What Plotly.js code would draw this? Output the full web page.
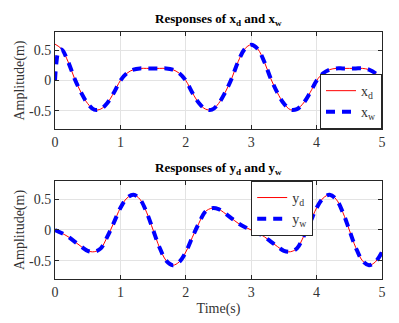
<!DOCTYPE html>
<html>
<head>
<meta charset="utf-8">
<script src="https://cdn.plot.ly/plotly-3.0.1.min.js"></script>
<style>
  html, body { margin: 0; padding: 0; background: #fff; }
  #plot { width: 399px; height: 323px; }
</style>
</head>
<body>
<div id="plot"></div>
<script>
// time grid (s), read every 0.1 s
var t = [0,0.1,0.2,0.3,0.4,0.5,0.6,0.7,0.8,0.9,1,1.1,1.2,1.3,1.4,1.5,1.6,1.7,1.8,1.9,2,
         2.1,2.2,2.3,2.4,2.5,2.6,2.7,2.8,2.9,3,3.1,3.2,3.3,3.4,3.5,3.6,3.7,3.8,3.9,4,
         4.1,4.2,4.3,4.4,4.5,4.6,4.7,4.8,4.9,5];

// x responses
var xd = [0.60,0.52,0.31,0.03,-0.20,-0.38,-0.48,-0.47,-0.37,-0.20,0.00,
          0.12,0.18,0.20,0.20,0.20,0.20,0.20,0.18,0.12,0.00,
          -0.20,-0.37,-0.47,-0.48,-0.38,-0.20,0.03,0.31,0.52,0.59,
          0.52,0.31,0.03,-0.20,-0.38,-0.48,-0.47,-0.37,-0.20,0.00,
          0.12,0.18,0.20,0.20,0.20,0.20,0.20,0.18,0.12,0.00];

// x_w starts at zero and catches up within the first 0.1 s
var tw = [0,0.02,0.05,0.1,0.2,0.3,0.4,0.5,0.6,0.7,0.8,0.9,1,1.1,1.2,1.3,1.4,1.5,1.6,1.7,1.8,1.9,2,
          2.1,2.2,2.3,2.4,2.5,2.6,2.7,2.8,2.9,3,3.1,3.2,3.3,3.4,3.5,3.6,3.7,3.8,3.9,4,
          4.1,4.2,4.3,4.4,4.5,4.6,4.7,4.8,4.9,5];
var xw = [0.00,0.28,0.46,0.51,0.31,0.03,-0.20,-0.38,-0.48,-0.47,-0.37,-0.20,0.00,
          0.12,0.18,0.20,0.20,0.20,0.20,0.20,0.18,0.12,0.00,
          -0.20,-0.37,-0.47,-0.48,-0.38,-0.20,0.03,0.31,0.52,0.59,
          0.52,0.31,0.03,-0.20,-0.38,-0.48,-0.47,-0.37,-0.20,0.00,
          0.12,0.18,0.20,0.20,0.20,0.20,0.20,0.18,0.12,0.00];

// y responses
var yd = [0.00,-0.05,-0.11,-0.19,-0.27,-0.34,-0.355,-0.30,-0.11,0.12,0.36,
          0.52,0.575,0.50,0.29,0.00,-0.29,-0.50,-0.575,-0.52,-0.36,
          -0.12,0.11,0.30,0.355,0.34,0.27,0.19,0.11,0.05,0.00,
          -0.05,-0.11,-0.19,-0.27,-0.34,-0.355,-0.30,-0.11,0.12,0.36,
          0.52,0.575,0.50,0.29,0.00,-0.29,-0.50,-0.575,-0.52,-0.36];
var yw = [0.00,-0.05,-0.11,-0.19,-0.27,-0.34,-0.355,-0.30,-0.11,0.12,0.36,
          0.52,0.575,0.50,0.29,0.00,-0.29,-0.50,-0.575,-0.52,-0.36,
          -0.12,0.11,0.30,0.355,0.34,0.27,0.19,0.11,0.05,0.00,
          -0.05,-0.11,-0.19,-0.27,-0.34,-0.355,-0.30,-0.11,0.12,0.36,
          0.52,0.575,0.50,0.29,0.00,-0.29,-0.50,-0.575,-0.52,-0.36];

var yTicks = [-0.5, 0, 0.5];
var yTickText = ['-0.5', '0', '0.5'];

var serif = 'Liberation Serif';
var red = {color: '#ff0000', width: 1, shape: 'spline'};
var blue = {color: '#0000ff', width: 4, dash: '9px,7px', shape: 'spline'};

// red first, dashed blue on top
var data = [
  {x: t, y: xd, mode: 'lines', name: 'x<sub>d</sub>', line: red, xaxis: 'x', yaxis: 'y', legend: 'legend'},
  {x: tw, y: xw, mode: 'lines', name: 'x<sub>w</sub>', line: blue, xaxis: 'x', yaxis: 'y', legend: 'legend'},
  {x: t, y: yd, mode: 'lines', name: 'y<sub>d</sub>', line: red, xaxis: 'x2', yaxis: 'y2', legend: 'legend2'},
  {x: t, y: yw, mode: 'lines', name: 'y<sub>w</sub>', line: blue, xaxis: 'x2', yaxis: 'y2', legend: 'legend2'}
];

function xax(anchor, titleText) {
  return {
    anchor: anchor, domain: [0, 1], range: [0, 5], dtick: 1,
    showline: true, mirror: 'ticks', linecolor: '#262626', linewidth: 1,
    ticks: 'inside', ticklen: 4, tickcolor: '#262626',
    showgrid: true, gridcolor: '#e3e3e3', zeroline: false,
    tickfont: {family: serif, size: 14, color: '#333'},
    title: {text: titleText, font: {family: serif, size: 14, color: '#333'}, standoff: 4}
  };
}
function yax(anchor, dom) {
  return {
    anchor: anchor, domain: dom, range: [-0.8, 0.8],
    tickvals: yTicks, ticktext: yTickText,
    showline: true, mirror: 'ticks', linecolor: '#262626', linewidth: 1,
    ticks: 'inside', ticklen: 4, tickcolor: '#262626',
    showgrid: true, gridcolor: '#e3e3e3', zeroline: false,
    tickfont: {family: serif, size: 14, color: '#333'},
    title: {text: 'Amplitude(m)', font: {family: serif, size: 14, color: '#333'}, standoff: 1}
  };
}

var legendStyle = {
  bgcolor: '#fff', bordercolor: '#262626', borderwidth: 1,
  font: {family: serif, size: 14, color: '#333'},
  itemwidth: 30, tracegroupgap: 0
};

var layout = {
  width: 399, height: 323,
  font: {family: serif},
  margin: {l: 55, r: 17, t: 32, b: 44},
  paper_bgcolor: '#fff', plot_bgcolor: '#fff',
  xaxis: xax('y', ''),
  yaxis: yax('x', [0.607, 1]),
  xaxis2: xax('y2', 'Time(s)'),
  yaxis2: yax('x2', [0, 0.397]),
  legend: Object.assign({x: 1, xanchor: 'right', y: 0.607, yanchor: 'bottom'}, legendStyle),
  legend2: Object.assign({x: 0.6, xanchor: 'left', y: 0.397, yanchor: 'top'}, legendStyle),
  annotations: [
    {text: '<b>Responses of x<sub>d</sub> and x<sub>w</sub></b>', xref: 'paper', yref: 'paper',
     x: 0.5, y: 1, yanchor: 'bottom', yshift: 2, showarrow: false,
     font: {family: serif, size: 13, color: '#000'}},
    {text: '<b>Responses of y<sub>d</sub> and y<sub>w</sub></b>', xref: 'paper', yref: 'paper',
     x: 0.5, y: 0.397, yanchor: 'bottom', yshift: 2, showarrow: false,
     font: {family: serif, size: 13, color: '#000'}}
  ],
  showlegend: true
};

Plotly.newPlot('plot', data, layout, {displayModeBar: false, staticPlot: true});
</script>
</body>
</html>
